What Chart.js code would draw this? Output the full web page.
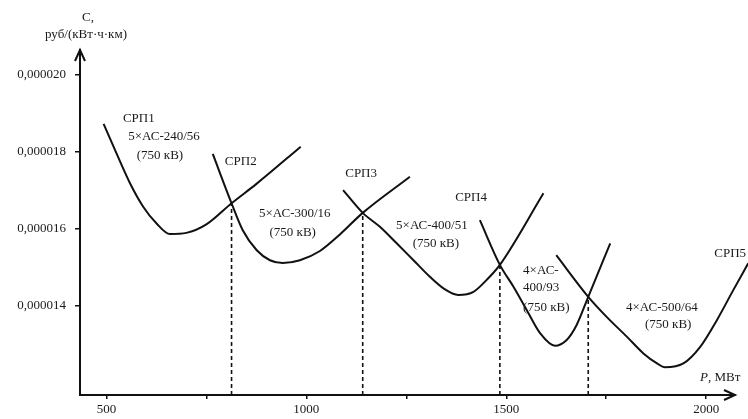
<!DOCTYPE html>
<html><head><meta charset="utf-8">
<script src="https://cdn.jsdelivr.net/npm/chart.js@4"></script>
<style>html,body{margin:0;padding:0;background:#fff}</style>
</head><body>
<canvas id="c" width="748" height="419"></canvas>
<script>
// ---- data (P in MW, C in rub/(kW·h·km)) ----
const xTicks = [500, 750, 1000, 1250, 1500, 1750, 2000];
const xLabeled = [500, 1000, 1500, 2000];
const yTicks = [0.000014, 0.000016, 0.000018, 0.000020];

const srp1P = [493, 525, 559, 592, 625, 659, 700, 750, 813, 876, 986];
const srp1C = [0.00001873, 0.00001797, 0.00001719, 0.00001658, 0.00001615, 0.00001587, 0.00001590, 0.00001612, 0.00001667, 0.00001718, 0.00001814];
const srp2P = [766, 813, 841, 876, 909, 941, 984, 1034, 1084, 1141, 1259];
const srp2C = [0.00001795, 0.00001667, 0.00001597, 0.00001545, 0.00001519, 0.00001512, 0.00001519, 0.00001543, 0.00001586, 0.00001642, 0.00001736];
const srp3P = [1092, 1141, 1184, 1226, 1268, 1309, 1343, 1380, 1418, 1451, 1484, 1593];
const srp3C = [0.00001701, 0.00001642, 0.00001606, 0.00001563, 0.00001519, 0.00001476, 0.00001446, 0.00001429, 0.00001437, 0.00001468, 0.00001507, 0.00001693];
const srp4P = [1434, 1484, 1518, 1551, 1585, 1622, 1651, 1676, 1705, 1760];
const srp4C = [0.00001623, 0.00001507, 0.00001450, 0.00001390, 0.00001329, 0.00001297, 0.00001312, 0.00001351, 0.00001424, 0.00001563];
const srp5P = [1625, 1705, 1751, 1802, 1843, 1877, 1897, 1943, 1985, 2027, 2068, 2105];
const srp5C = [0.00001532, 0.00001424, 0.00001372, 0.00001320, 0.00001277, 0.00001251, 0.00001241, 0.00001251, 0.00001294, 0.00001364, 0.00001442, 0.00001511];

// crossing points (dashed verticals)
const crossP = [813, 1141, 1484, 1705];
const crossC = [0.00001667, 0.00001642, 0.00001507, 0.00001424];

// axis range
const xMin = 434, xMax = 2072;
const yMin = 0.00001169, yMax = 0.00002065;

// annotations
const annText = ['СРП1', '5×АС-240/56', '(750 кВ)', 'СРП2', 'СРП3', '5×АС-300/16', '(750 кВ)',
  '5×АС-400/51', '(750 кВ)', 'СРП4', '4×АС-', '400/93', '(750 кВ)', '4×АС-500/64', '(750 кВ)', 'СРП5'];
const annP = [581, 644, 634, 836, 1137, 971, 966, 1314, 1324, 1412, 1542, 1542, 1542, 1889, 1905, 2060];
const annC = [0.00001888, 0.00001839, 0.00001790, 0.00001774, 0.00001745, 0.00001639, 0.00001592,
  0.00001610, 0.00001561, 0.00001681, 0.00001491, 0.00001447, 0.00001397, 0.00001397, 0.00001351, 0.00001535];
const annAlign = ['center','center','center','center','center','center','center','center','center','center','left','left','left','center','center','center'];

const FONT = '"Liberation Serif", "Times New Roman", serif';

function pts(P, C) { return P.map((p, i) => ({x: p, y: C[i]})); }
const curve = (P, C) => ({data: pts(P, C), borderColor: '#111', borderWidth: 2, pointRadius: 0,
  cubicInterpolationMode: 'monotone', fill: false, clip: false});

const datasets = [curve(srp1P, srp1C), curve(srp2P, srp2C), curve(srp3P, srp3C), curve(srp4P, srp4C), curve(srp5P, srp5C)];
crossP.forEach((p, i) => datasets.push({data: [{x: p, y: yMin}, {x: p, y: crossC[i]}], borderColor: '#111',
  borderWidth: 1.6, borderDash: [4, 3], pointRadius: 0, fill: false}));

const deco = {
  id: 'deco',
  afterDraw(chart) {
    const ctx = chart.ctx, a = chart.chartArea, xs = chart.scales.x, ys = chart.scales.y;
    ctx.save();
    ctx.strokeStyle = '#111'; ctx.lineWidth = 2;
    // y arrow
    ctx.beginPath(); ctx.moveTo(a.left - 5, a.top + 11); ctx.lineTo(a.left, a.top); ctx.lineTo(a.left + 5, a.top + 11); ctx.stroke();
    // x arrow
    ctx.beginPath(); ctx.moveTo(a.right - 11, a.bottom - 5); ctx.lineTo(a.right, a.bottom); ctx.lineTo(a.right - 11, a.bottom + 5); ctx.stroke();
    ctx.fillStyle = '#1a1a1a';
    ctx.textBaseline = 'middle';
    // axis titles
    ctx.font = '13px ' + FONT; ctx.textAlign = 'center';
    ctx.fillText('C,', a.left + 8, a.top - 32);
    ctx.fillText('руб/(кВт·ч·км)', a.left + 6, a.top - 15);
    ctx.textAlign = 'left';
    ctx.font = 'italic 13px ' + FONT;
    ctx.fillText('P', a.right - 35, a.bottom - 17);
    const w = ctx.measureText('P').width;
    ctx.font = '13px ' + FONT;
    ctx.fillText(', МВт', a.right - 35 + w, a.bottom - 17);
    // annotations
    annText.forEach((t, i) => {
      ctx.textAlign = annAlign[i];
      ctx.fillText(t, xs.getPixelForValue(annP[i]), ys.getPixelForValue(annC[i]));
    });
    ctx.restore();
  }
};

new Chart(document.getElementById('c'), {
  type: 'line',
  data: {datasets},
  options: {
    responsive: false, animation: false,
    layout: {padding: {top: 50, right: 13, left: 0, bottom: 0}},
    plugins: {legend: {display: false}, tooltip: {enabled: false}},
    scales: {
      x: {
        type: 'linear', min: xMin, max: xMax,
        afterBuildTicks: s => { s.ticks = xTicks.map(v => ({value: v})); },
        afterFit: s => { s.height = 24; },
        grid: {drawOnChartArea: false, tickLength: 4, color: '#111', lineWidth: 1.5},
        border: {color: '#111', width: 2},
        ticks: {color: '#1a1a1a', padding: 3, maxRotation: 0, autoSkip: false,
          font: {family: FONT, size: 13},
          callback: v => xLabeled.includes(v) ? String(v) : ''}
      },
      y: {
        type: 'linear', min: yMin, max: yMax,
        afterBuildTicks: s => { s.ticks = yTicks.map(v => ({value: v})); },
        afterFit: s => { s.width = 80; },
        grid: {drawOnChartArea: false, tickLength: 5, color: '#111', lineWidth: 1.5},
        border: {color: '#111', width: 2},
        ticks: {color: '#1a1a1a', padding: 9, font: {family: FONT, size: 13},
          callback: v => Number(v).toFixed(6).replace('.', ',')}
      }
    }
  },
  plugins: [deco]
});
</script>
</body></html>
